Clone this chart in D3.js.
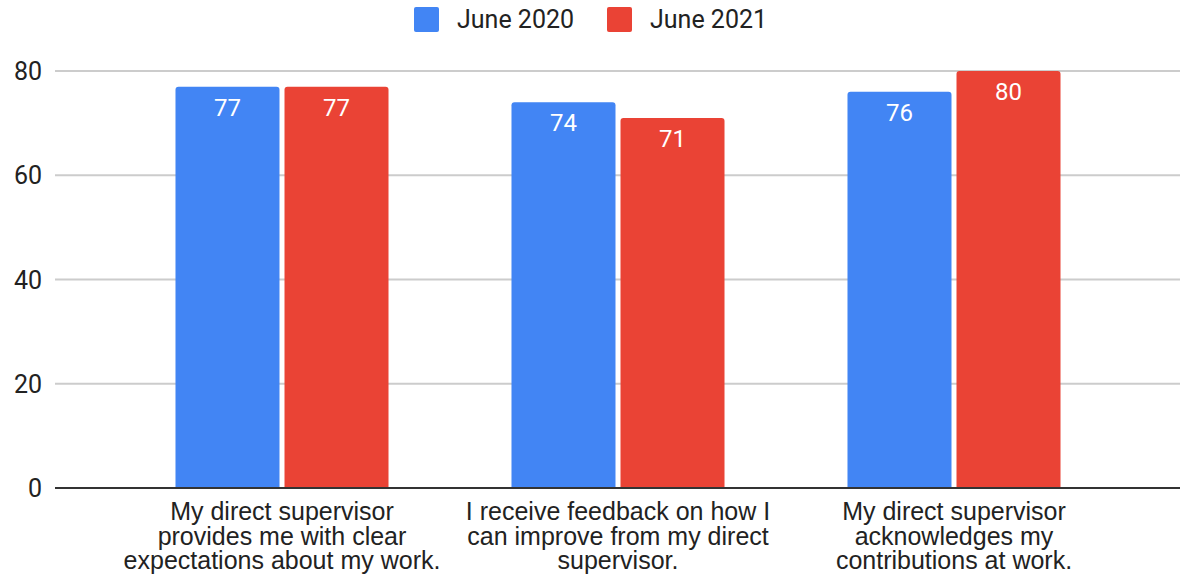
<!DOCTYPE html>
<html><head><meta charset="utf-8">
<script src="https://cdn.jsdelivr.net/npm/d3@7"></script>
<style>body{margin:0;background:#fff}</style>
</head><body><svg id="c" width="1185" height="576"></svg>
<script>
const categories = [
  ["My direct supervisor","provides me with clear","expectations about my work."],
  ["I receive feedback on how I","can improve from my direct","supervisor."],
  ["My direct supervisor","acknowledges my","contributions at work."]
];
const seriesNames = ["June 2020","June 2021"];
const june2020 = [77, 74, 76];
const june2021 = [77, 71, 80];
const yTicks = [0, 20, 40, 60, 80];
const colors = ["#4285F4", "#EA4335"];

const svg = d3.select("#c");
const plotLeft = 55, plotRight = 1180, plotTop = 71, plotBottom = 488;
const y = d3.scaleLinear().domain([0, 80]).range([plotBottom, plotTop]);
const x0 = d3.scaleBand().domain(d3.range(categories.length)).range([114, 1122]).paddingInner(0.366).paddingOuter(0.183);
const x1 = d3.scaleBand().domain([0,1]).range([0, x0.bandwidth()]).paddingInner(0.046);

// gridlines
svg.append("g").selectAll("line").data(yTicks.filter(d=>d>0)).join("line")
  .attr("x1", plotLeft).attr("x2", plotRight).attr("y1", d=>y(d)).attr("y2", d=>y(d))
  .attr("stroke", "#cccccc").attr("stroke-width", 2);

// y labels
svg.append("g").selectAll("text").data(yTicks).join("text")
  .attr("x", 42).attr("y", d=>y(d)+9).attr("text-anchor","end")
  .attr("font-family","Roboto, Arial, sans-serif").attr("font-size",25).attr("fill","#222")
  .text(d=>d);

const series = [june2020, june2021];
const data = [];
categories.forEach((c,i)=>series.forEach((s,j)=>data.push({i,j,v:s[i]})));

const r = 3;
function barPath(xp, w, yt, yb){
  return `M${xp},${yb}V${yt+r}Q${xp},${yt} ${xp+r},${yt}H${xp+w-r}Q${xp+w},${yt} ${xp+w},${yt+r}V${yb}Z`;
}
const g = svg.append("g");
g.selectAll("path").data(data).join("path")
  .attr("d", d=>barPath(x0(d.i)+x1(d.j), x1.bandwidth(), y(d.v), plotBottom))
  .attr("fill", d=>colors[d.j]);
g.selectAll("text").data(data).join("text")
  .attr("x", d=>x0(d.i)+x1(d.j)+x1.bandwidth()/2).attr("y", d=>y(d.v)+29)
  .attr("text-anchor","middle").attr("font-family","Roboto, Arial, sans-serif")
  .attr("font-size",24).attr("fill","#fff").text(d=>d.v);

// x axis line
svg.append("line").attr("x1",plotLeft).attr("x2",plotRight).attr("y1",plotBottom).attr("y2",plotBottom)
  .attr("stroke","#333").attr("stroke-width",2);

// category labels
const cl = svg.append("g");
categories.forEach((lines,i)=>{
  const t = cl.append("text").attr("text-anchor","middle")
    .attr("font-family","Arial, 'Liberation Sans', sans-serif").attr("font-size",25).attr("fill","#222");
  lines.forEach((ln,k)=>t.append("tspan").attr("x", x0(i)+x0.bandwidth()/2).attr("y", 520+k*24.5).text(ln));
});

// legend
const legX = [414, 607];
seriesNames.forEach((n,j)=>{
  svg.append("rect").attr("x",legX[j]).attr("y",7).attr("width",25).attr("height",25).attr("rx",2).attr("fill",colors[j]);
  svg.append("text").attr("x",legX[j]+43).attr("y",28).attr("font-family","Roboto, Arial, sans-serif")
    .attr("font-size",25).attr("fill","#222").text(n);
});
</script></body></html>
